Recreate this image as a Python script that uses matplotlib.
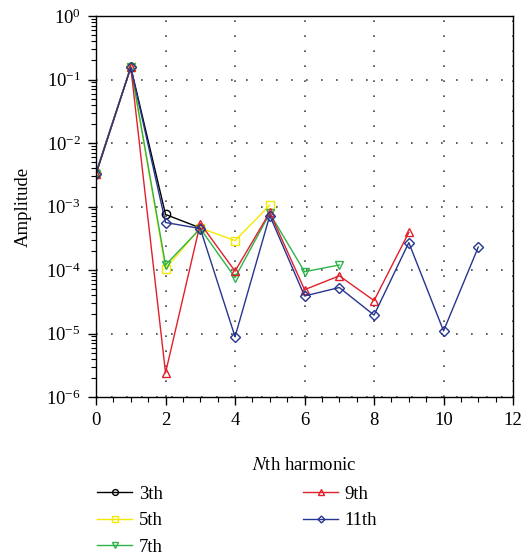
import matplotlib
matplotlib.use('Agg')
import matplotlib.pyplot as plt
from matplotlib.ticker import LogLocator, MultipleLocator, NullFormatter

plt.rcParams['font.family'] = 'Liberation Serif'
plt.rcParams['mathtext.fontset'] = 'stix'

# harmonic amplitudes
x_3 = [0, 1, 2, 3]
y_3 = [3.4e-3, 0.157, 7.5e-4, 4.6e-4]
x_5 = [0, 1, 2, 3, 4, 5]
y_5 = [3.3e-3, 0.157, 1.05e-4, 4.6e-4, 2.9e-4, 1.05e-3]
x_7 = [0, 1, 2, 3, 4, 5, 6, 7]
y_7 = [3.3e-3, 0.157, 1.2e-4, 4.5e-4, 7.6e-5, 7.8e-4, 9.4e-5, 1.2e-4]
x_9 = [0, 1, 2, 3, 4, 5, 6, 7, 8, 9]
y_9 = [3.2e-3, 0.155, 2.4e-6, 5.4e-4, 9.6e-5, 8.1e-4, 4.9e-5, 8.1e-5, 3.3e-5, 3.9e-4]
x_11 = [0, 1, 2, 3, 4, 5, 6, 7, 8, 9, 10, 11]
y_11 = [3.3e-3, 0.155, 5.6e-4, 4.5e-4, 8.9e-6, 7.2e-4, 3.9e-5, 5.3e-5, 1.95e-5, 2.7e-4, 1.1e-5, 2.3e-4]

series = [
    ('3th', x_3, y_3, '#000000', 'o'),
    ('5th', x_5, y_5, '#f2ea00', 's'),
    ('7th', x_7, y_7, '#2db34a', 'v'),
    ('9th', x_9, y_9, '#e0202a', '^'),
    ('11th', x_11, y_11, '#26358f', 'D'),
]

fig = plt.figure(figsize=(5.23, 5.58), dpi=100)
ax = fig.add_axes([0.1836, 0.2885, 0.7974, 0.6828])

for label, xs, ys, c, m in series:
    ms = 5 if m == 'D' else 6
    ax.plot(xs, ys, color=c, marker=m, markersize=ms, markerfacecolor='none',
            markeredgecolor=c, linewidth=1.0, label=label)

ax.set_yscale('log')
ax.set_xlim(0, 12)
ax.set_ylim(1e-6, 1)
ax.xaxis.set_major_locator(MultipleLocator(2))
ax.xaxis.set_minor_locator(MultipleLocator(0.5))
ax.yaxis.set_major_locator(LogLocator(base=10, numticks=10))
ax.yaxis.set_minor_locator(LogLocator(base=10, subs=range(2, 10), numticks=20))
ax.yaxis.set_minor_formatter(NullFormatter())
ax.tick_params(which='both', direction='out', top=False, right=False, labelsize=13.5)
ax.tick_params(which='major', length=6, width=1, pad=5)
ax.tick_params(which='minor', length=3.5, width=0.8)
ax.grid(True, which='major', linestyle=(0, (1, 8)), color='#444444', linewidth=1.2)
for s in ax.spines.values():
    s.set_linewidth(1.0)

ax.set_xlabel(r'$\mathit{N}$th harmonic', fontsize=13.5, labelpad=20)
ax.set_ylabel('Amplitude', fontsize=13.5, labelpad=10)

ax.legend(loc='upper left', bbox_to_anchor=(-0.037, -0.188), ncol=2, frameon=False,
          fontsize=13.5, handlelength=1.85, columnspacing=7.5, labelspacing=0.5,
          handletextpad=0.35, markerscale=0.7)

plt.savefig('out.png', dpi=100)
